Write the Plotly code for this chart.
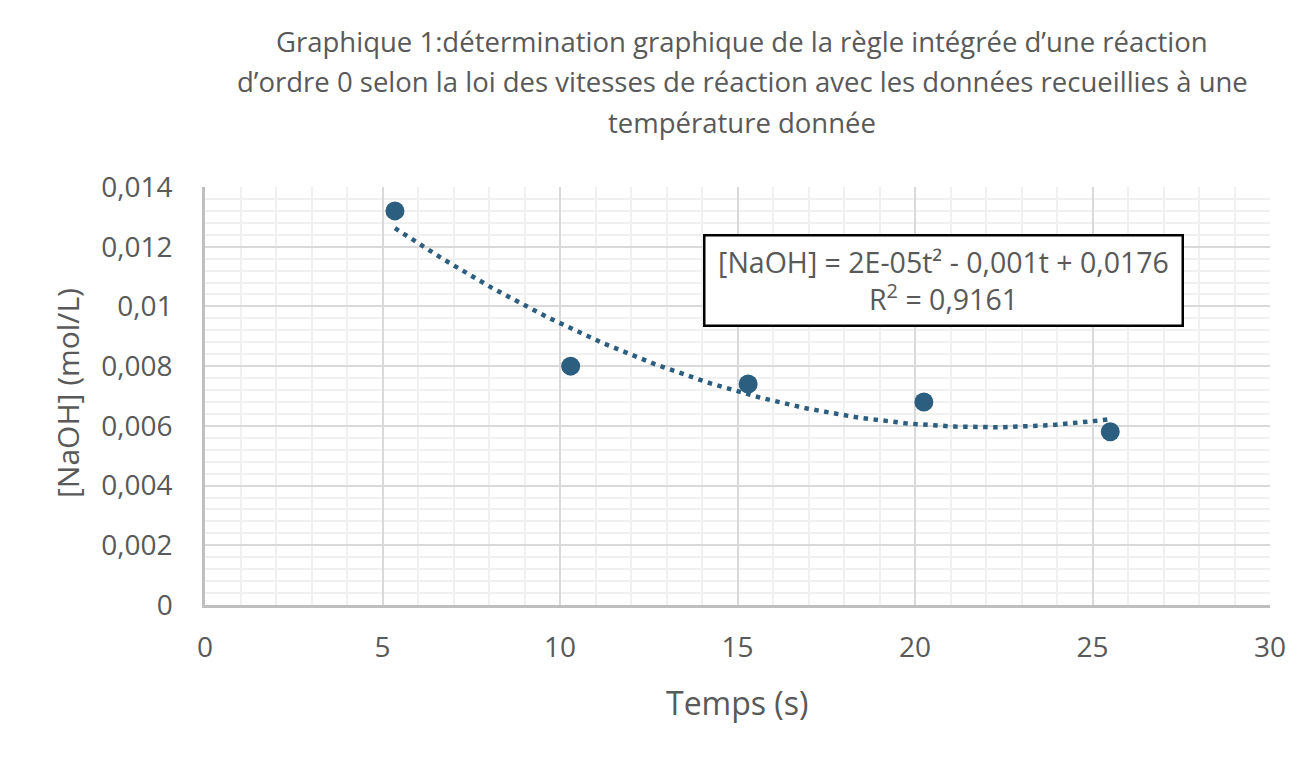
import numpy as np
import plotly.graph_objects as go

temps = [5.35, 10.3, 15.3, 20.25, 25.5]
naoh = [0.0132, 0.0080, 0.0074, 0.0068, 0.0058]

title_lines = [
    "Graphique 1:détermination graphique de la règle intégrée d’une réaction",
    "d’ordre 0 selon la loi des vitesses de réaction avec les données recueillies à une",
    "température donnée",
]
x_title = "Temps (s)"
y_title = "[NaOH] (mol/L)"
eq_text = "[NaOH] = 2E-05t² - 0,001t + 0,0176<br>R<sup>2</sup> = 0,9161"

color = "#2c5e7f"
txt = "#595959"
font = "Open Sans"

# plot area in pixels: x 205..1270, y 187..605
L, R, T, B = 205, 43, 187, 153
W, H = 1313, 758
pw, ph = W - L - R, H - T - B


def px_x(p):
    return (p - L) / pw


def px_y(p):
    return (H - B - p) / ph


coef = np.polyfit(temps, naoh, 2)
tx = np.linspace(min(temps), max(temps), 200)
ty = np.polyval(coef, tx)

fig = go.Figure()
fig.add_trace(go.Scatter(x=tx, y=ty, mode="lines",
                         line=dict(color=color, width=4.5, dash="4.5px,5.5px"),
                         hoverinfo="skip", showlegend=False))
fig.add_trace(go.Scatter(x=temps, y=naoh, mode="markers",
                         marker=dict(color=color, size=19),
                         showlegend=False))

# chart title, one annotation per line
for i, line in enumerate(title_lines):
    fig.add_annotation(xref="paper", yref="paper", x=px_x(742), y=px_y(42 + 40 * i),
                       text=line, showarrow=False, xanchor="center", yanchor="middle",
                       font=dict(family=font, size=27.5, color=txt))

# axis titles
fig.add_annotation(xref="paper", yref="paper", x=px_x(737), y=px_y(702),
                   text=x_title, showarrow=False, xanchor="center", yanchor="middle",
                   font=dict(family=font, size=32, color=txt))
fig.add_annotation(xref="paper", yref="paper", x=px_x(67), y=px_y(393),
                   text=y_title, showarrow=False, xanchor="center", yanchor="middle",
                   textangle=-90,
                   font=dict(family=font, size=30, color=txt))

# trendline equation box
fig.add_annotation(xref="paper", yref="paper", x=px_x(943), y=px_y(280),
                   text=eq_text, showarrow=False, align="center",
                   font=dict(family=font, size=28.5, color=txt),
                   bordercolor="black", borderwidth=2.5, bgcolor="white",
                   borderpad=2, xanchor="center", yanchor="middle",
                   width=472, height=84)

fig.update_layout(
    width=W, height=H,
    margin=dict(l=L, r=R, t=T, b=B),
    paper_bgcolor="white", plot_bgcolor="white",
    separators=", ",
    font=dict(family=font, color=txt, size=28),
    xaxis=dict(range=[0, 30], dtick=5, tick0=0,
               showgrid=True, gridcolor="#d9d9d9", gridwidth=2,
               minor=dict(dtick=1, showgrid=True, gridcolor="#f0f0f0", gridwidth=2),
               showline=True, linecolor="#bfbfbf", linewidth=2.5,
               zeroline=False, ticks="", ticklabelstandoff=16,
               tickfont=dict(size=28, color=txt)),
    yaxis=dict(range=[0, 0.014], dtick=0.002, tick0=0,
               showgrid=True, gridcolor="#d9d9d9", gridwidth=2,
               minor=dict(dtick=0.0004, showgrid=True, gridcolor="#f0f0f0", gridwidth=2),
               showline=True, linecolor="#bfbfbf", linewidth=2.5,
               zeroline=False, ticks="", ticklabelstandoff=24,
               tickfont=dict(size=28, color=txt)),
)

fig.write_html("out.html")
